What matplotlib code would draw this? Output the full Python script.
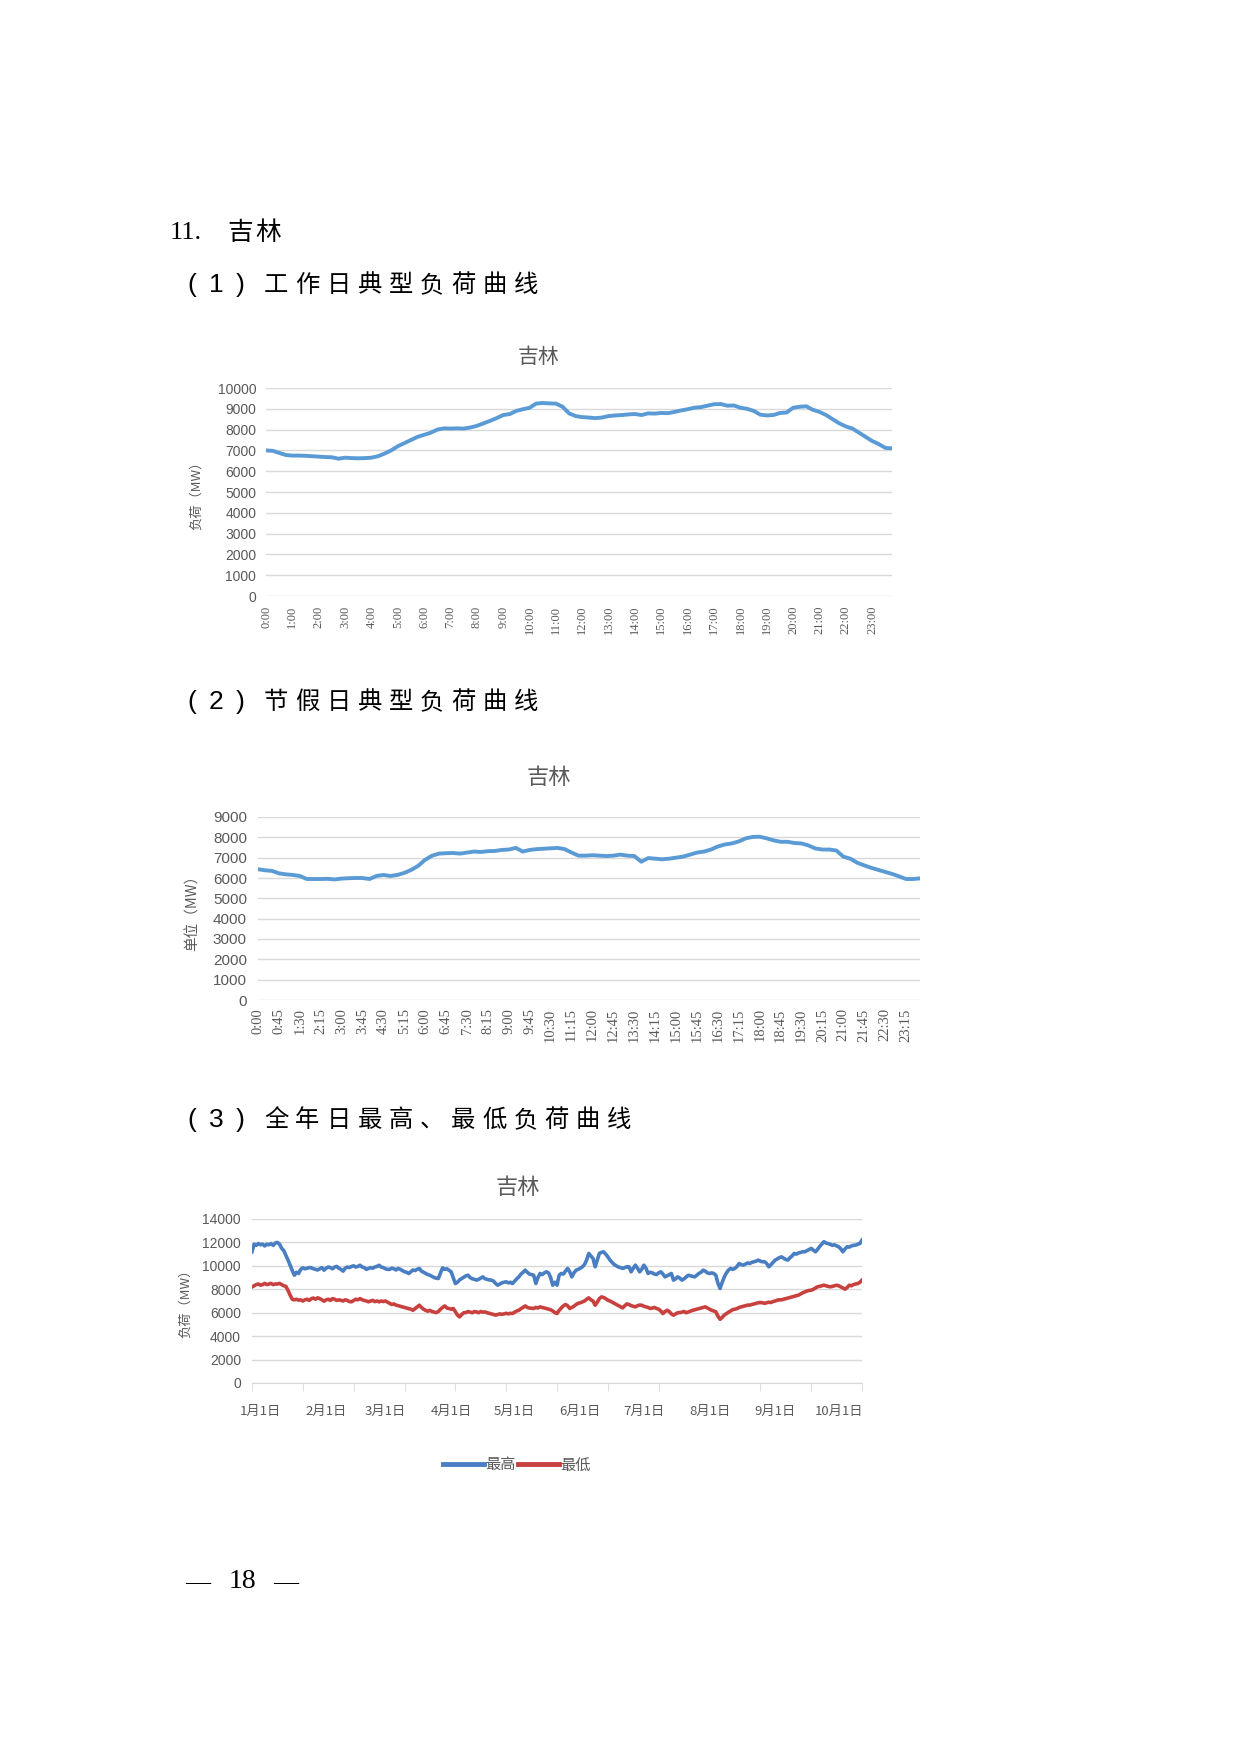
import matplotlib
matplotlib.use("Agg")
import matplotlib.pyplot as plt
import matplotlib.font_manager as fm
import pandas as pd

# ---- data ----
# working day typical load, 15 min steps (MW)
workday_load = [
    7000, 6980, 6880, 6780, 6750, 6750, 6740, 6720,
    6700, 6680, 6670, 6600, 6650, 6630, 6620, 6630,
    6650, 6720, 6850, 7000, 7200, 7350, 7500, 7650,
    7750, 7850, 8000, 8060, 8050, 8060, 8050, 8100,
    8180, 8300, 8420, 8550, 8700, 8750, 8900, 8980,
    9050, 9250, 9280, 9260, 9250, 9100, 8780, 8650,
    8600, 8580, 8550, 8580, 8650, 8680, 8700, 8730,
    8750, 8700, 8780, 8770, 8800, 8790, 8850, 8920,
    8980, 9050, 9080, 9150, 9220, 9230, 9150, 9160,
    9050, 9000, 8900, 8720, 8680, 8700, 8800, 8820,
    9050, 9100, 9120, 8950, 8850, 8700, 8500, 8300,
    8150, 8050, 7850, 7650, 7450, 7300, 7120, 7100,
]
workday_ticks = ["0:00", "1:00", "2:00", "3:00", "4:00", "5:00", "6:00", "7:00",
                 "8:00", "9:00", "10:00", "11:00", "12:00", "13:00", "14:00", "15:00",
                 "16:00", "17:00", "18:00", "19:00", "20:00", "21:00", "22:00", "23:00"]

# holiday typical load, 15 min steps (MW)
holiday_load = [
    6430, 6380, 6350, 6230, 6180, 6150, 6100, 5950, 5950, 5950, 5960, 5930,
    5970, 5990, 6000, 6000, 5950, 6100, 6150, 6100, 6150, 6250, 6400, 6600,
    6900, 7100, 7200, 7220, 7230, 7200, 7250, 7300, 7280, 7320, 7330, 7380,
    7400, 7480, 7300, 7380, 7420, 7440, 7460, 7480, 7420, 7250, 7100, 7100,
    7120, 7100, 7080, 7100, 7150, 7100, 7080, 6800, 6980, 6950, 6920, 6950,
    7000, 7050, 7150, 7250, 7300, 7400, 7550, 7650, 7700, 7800, 7950, 8020,
    8030, 7950, 7850, 7780, 7780, 7720, 7700, 7600, 7450, 7400, 7400, 7350,
    7050, 6950, 6750, 6620, 6500, 6400, 6300, 6200, 6080, 5950, 5950, 5980,
]
holiday_ticks = ["0:00", "0:45", "1:30", "2:15", "3:00", "3:45", "4:30", "5:15",
                 "6:00", "6:45", "7:30", "8:15", "9:00", "9:45", "10:30", "11:15",
                 "12:00", "12:45", "13:30", "14:15", "15:00", "15:45", "16:30", "17:15",
                 "18:00", "18:45", "19:30", "20:15", "21:00", "21:45", "22:30", "23:15"]

# daily max / min load of the year (MW), from Jan 1
daily_max = [
    11200, 11850, 11750, 11900, 11800, 11850, 11700, 11850, 11800, 11900,
    11750, 11950, 12000, 11850, 11500, 11300, 10900, 10500, 10050, 9600,
    9200, 9450, 9350, 9700, 9830, 9750, 9800, 9850, 9830, 9750,
    9700, 9650, 9750, 9850, 9630, 9800, 9900, 9850, 9750, 9900,
    9950, 9800, 9700, 9550, 9800, 9900, 9850, 9950, 10000, 9900,
    9950, 10050, 9900, 9850, 9700, 9780, 9850, 9800, 9900, 9950,
    10050, 9900, 9850, 9750, 9700, 9700, 9800, 9750, 9650, 9780,
    9700, 9600, 9500, 9450, 9350, 9500, 9650, 9600, 9700, 9780,
    9550, 9450, 9350, 9260, 9200, 9100, 9000, 8950, 8920, 9400,
    9830, 9700, 9750, 9630, 9500, 9000, 8490, 8600, 8800, 8920,
    9050, 9150, 9200, 9000, 8900, 8850, 8780, 8850, 8950, 9060,
    8900, 8850, 8800, 8780, 8700, 8500, 8350, 8450, 8550, 8600,
    8640, 8550, 8600, 8490, 8700, 8900, 9060, 9300, 9450, 9630,
    9450, 9300, 9250, 9200, 8490, 9000, 9350, 9250, 9400, 9490,
    9400, 9000, 8350, 8600, 8350, 9200, 9350, 9300, 9550, 9780,
    9500, 9060, 9400, 9630, 9700, 9800, 9920, 10120, 10500, 11060,
    10850, 10630, 9920, 10500, 11060, 11150, 11200, 11000, 10770, 10500,
    10300, 10120, 10000, 9900, 9850, 9780, 9850, 9920, 9920, 9490,
    9800, 10060, 9800, 9490, 9700, 10060, 9800, 9350, 9450, 9400,
    9300, 9260, 9400, 9490, 9300, 9060, 9150, 9250, 9350, 8780,
    8900, 9060, 8950, 8780, 8900, 9050, 9200, 9150, 9100, 9060,
    9200, 9350, 9450, 9630, 9550, 9400, 9350, 9400, 9350, 9200,
    8500, 8070, 8600, 9060, 9400, 9650, 9780, 9700, 9780, 9950,
    10200, 10100, 10060, 10150, 10250, 10200, 10300, 10350, 10400, 10490,
    10400, 10350, 10350, 10200, 9920, 10100, 10300, 10490, 10600, 10700,
    10770, 10650, 10550, 10490, 10700, 10850, 11060, 11000, 11100, 11150,
    11200, 11200, 11300, 11400, 11490, 11350, 11200, 11400, 11650, 11850,
    12060, 11950, 11900, 11840, 11750, 11800, 11700, 11630, 11450, 11200,
    11450, 11630, 11600, 11700, 11750, 11770, 11850, 11910, 12200,
]
daily_min = [
    8200, 8300, 8400, 8450, 8350, 8400, 8500, 8400, 8450, 8500,
    8400, 8450, 8450, 8500, 8400, 8300, 8250, 7900, 7500, 7150,
    7100, 7150, 7070, 7100, 7000, 7100, 7150, 7050, 7200, 7250,
    7150, 7270, 7200, 7100, 6980, 7100, 7150, 7050, 7200, 7150,
    7050, 7100, 7060, 7000, 7100, 7050, 6950, 6930, 7050, 7150,
    7100, 7210, 7100, 7050, 7000, 6930, 7000, 7050, 6950, 7000,
    6930, 7000, 6950, 7000, 6900, 6800, 6700, 6750, 6650, 6600,
    6550, 6500, 6450, 6400, 6350, 6300, 6210, 6350, 6500, 6640,
    6450, 6300, 6200, 6130, 6200, 6100, 6050, 6010, 6100, 6300,
    6450, 6580, 6400, 6360, 6300, 6360, 6100, 5800, 5640, 5850,
    6000, 6010, 6100, 6050, 6000, 6100, 6070, 6000, 6100, 6050,
    6070, 6000, 5950, 5900, 5850, 5790, 5850, 5900, 5860, 5900,
    5950, 5900, 5950, 5930, 6050, 6150, 6210, 6350, 6450, 6580,
    6450, 6400, 6380, 6360, 6450, 6400, 6500, 6450, 6400, 6360,
    6300, 6250, 6150, 6010, 5930, 6200, 6400, 6580, 6700, 6600,
    6360, 6450, 6550, 6700, 6800, 6850, 6930, 7000, 7150, 7270,
    7100, 7000, 6640, 6900, 7200, 7350, 7300, 7200, 7070, 7000,
    6900, 6790, 6700, 6600, 6500, 6410, 6600, 6750, 6700, 6600,
    6550, 6500, 6600, 6650, 6640, 6550, 6500, 6450, 6360, 6400,
    6450, 6360, 6300, 6150, 5930, 6100, 6210, 6100, 5900, 5790,
    5900, 6000, 6010, 6050, 6100, 6000, 6070, 6150, 6200, 6250,
    6300, 6350, 6400, 6450, 6500, 6400, 6300, 6210, 6150, 6070,
    5700, 5440, 5600, 5800, 5930, 6050, 6150, 6270, 6300, 6350,
    6450, 6500, 6550, 6600, 6650, 6650, 6700, 6750, 6800, 6850,
    6870, 6850, 6800, 6850, 6900, 6870, 6950, 7000, 7070, 7100,
    7100, 7150, 7200, 7250, 7300, 7350, 7400, 7450, 7500, 7600,
    7700, 7780, 7850, 7900, 7920, 8000, 8100, 8210, 8250, 8300,
    8350, 8300, 8250, 8210, 8250, 8300, 8350, 8300, 8200, 8100,
    8010, 8150, 8350, 8300, 8400, 8450, 8490, 8600, 8780,
]
month_labels = ["1月1日", "2月1日", "3月1日", "4月1日", "5月1日",
                "6月1日", "7月1日", "8月1日", "9月1日", "10月1日"]
series_names = ["最高", "最低"]

# ---- page setup ----
W, H = 1240, 1754
CJK = ["Noto Sans CJK SC", "DejaVu Sans"]
have = {f.name for f in fm.fontManager.ttflist}
NUM = ["Liberation Sans Narrow"] if "Liberation Sans Narrow" in have else ["Liberation Sans"]
GREY = "#595959"
GRID = "#d9d9d9"

fig = plt.figure(figsize=(W / 100, H / 100), dpi=100)
fig.patch.set_facecolor("white")


def add_ax(l, t, r, b):
    return fig.add_axes([l / W, 1 - b / H, (r - l) / W, (b - t) / H])


def ftext(x, y, s, **kw):
    return fig.text(x / W, 1 - y / H, s, **kw)


def spaced(x0, y, s, pitch, size):
    # document headings are letter-spaced
    for i, ch in enumerate(s):
        ftext(x0 + i * pitch, y, ch, fontsize=size, family=CJK, ha="center",
              va="center", color="black")


def heading(y, num, text):
    for x, ch in zip((192, 216, 240), ("(", num, ")")):
        ftext(x, y, ch, fontsize=19, family="Liberation Sans", ha="center", va="center")
    spaced(276, y, text, 31.2, 17.5)


def style(ax, ymax, ystep, tsize, pad):
    ax.set_ylim(0, ymax)
    ax.set_yticks(range(0, ymax + 1, ystep))
    ax.grid(axis="y", color=GRID, lw=1)
    ax.set_axisbelow(True)
    for s in ax.spines.values():
        s.set_visible(False)
    ax.tick_params(axis="both", length=0, colors=GREY, labelsize=tsize)
    ax.tick_params(axis="y", pad=pad)
    for lab in ax.get_yticklabels():
        lab.set_family(NUM)


# headings
ftext(170, 233, "11.", fontsize=19, family="Liberation Serif", ha="left", va="center")
spaced(240, 233, "吉林", 28, 18.5)
heading(285, "1", "工作日典型负荷曲线")
heading(702, "2", "节假日典型负荷曲线")
heading(1120, "3", "全年日最高、最低负荷曲线")

# ---- chart 1: working day ----
ax1 = add_ax(266, 388, 892, 596)
ax1.plot(range(len(workday_load)), workday_load, color="#5B9BD5", lw=2.8)
ax1.set_xlim(0, len(workday_load) - 1)
style(ax1, 10000, 1000, 10, 7)
ax1.set_xticks(range(0, 96, 4))
ax1.set_xticklabels(workday_ticks, rotation=90, family="Liberation Serif", fontsize=9)
ax1.tick_params(axis="x", pad=7)
ftext(539, 357, "吉林", fontsize=15, family=CJK, color=GREY, ha="center", va="center")
ftext(196, 492, "负荷（MW）", fontsize=9.5, family=CJK, color=GREY, rotation=90,
      ha="center", va="center")

# ---- chart 2: holiday ----
ax2 = add_ax(258, 817, 920, 1000)
ax2.plot(range(len(holiday_load)), holiday_load, color="#5B9BD5", lw=2.8)
ax2.set_xlim(0, len(holiday_load) - 1)
style(ax2, 9000, 1000, 11, 8)
ax2.set_xticks(range(0, 96, 3))
ax2.set_xticklabels(holiday_ticks, rotation=90, family="Liberation Serif", fontsize=10.5)
ax2.tick_params(axis="x", pad=6)
ftext(549, 778, "吉林", fontsize=16, family=CJK, color=GREY, ha="center", va="center")
ftext(193, 909, "单位（MW）", fontsize=10.5, family=CJK, color=GREY, rotation=90,
      ha="center", va="center")

# ---- chart 3: yearly max / min ----
days = pd.date_range("2021-01-01", periods=len(daily_max), freq="D")
month_pos = [i + 4 for i, d in enumerate(days) if d.day == 1]
ax3 = add_ax(252, 1219, 862, 1383)
ax3.plot(range(len(daily_max)), daily_max, color="#4A7EC2", lw=2.6, label=series_names[0])
ax3.plot(range(len(daily_min)), daily_min, color="#C8413F", lw=2.6, label=series_names[1])
ax3.set_xlim(0, len(daily_max) - 1)
style(ax3, 14000, 2000, 10, 8)
ax3.spines["bottom"].set_visible(True)
ax3.spines["bottom"].set_color(GRID)
ax3.set_xticks(month_pos[:len(month_labels)])
ax3.set_xticklabels(month_labels, family=CJK, fontsize=9.5)
ax3.set_xticks(range(0, len(daily_max), 24), minor=True)
ax3.tick_params(axis="x", which="minor", length=6, color=GRID, direction="out")
ax3.tick_params(axis="x", which="major", pad=16)
ftext(518, 1188, "吉林", fontsize=16, family=CJK, color=GREY, ha="center", va="center")
ftext(185, 1300, "负荷（MW）", fontsize=9.5, family=CJK, color=GREY, rotation=90,
      ha="center", va="center")
leg = ax3.legend(loc="center", bbox_to_anchor=(517 / W, 1 - 1465 / H),
                 bbox_transform=fig.transFigure, ncol=2, frameon=False,
                 handlelength=2.7, handletextpad=0.1, columnspacing=0.1,
                 prop={"family": CJK, "size": 11})
for t in leg.get_texts():
    t.set_color(GREY)
for ln in leg.get_lines():
    ln.set_linewidth(3.5)

# page number
ftext(198, 1582, "—", fontsize=18, family="Liberation Serif", ha="center", va="center")
ftext(242, 1582, "18", fontsize=20, family="Liberation Serif", ha="center", va="center")
ftext(286, 1582, "—", fontsize=18, family="Liberation Serif", ha="center", va="center")

fig.savefig("out.png", dpi=100)
